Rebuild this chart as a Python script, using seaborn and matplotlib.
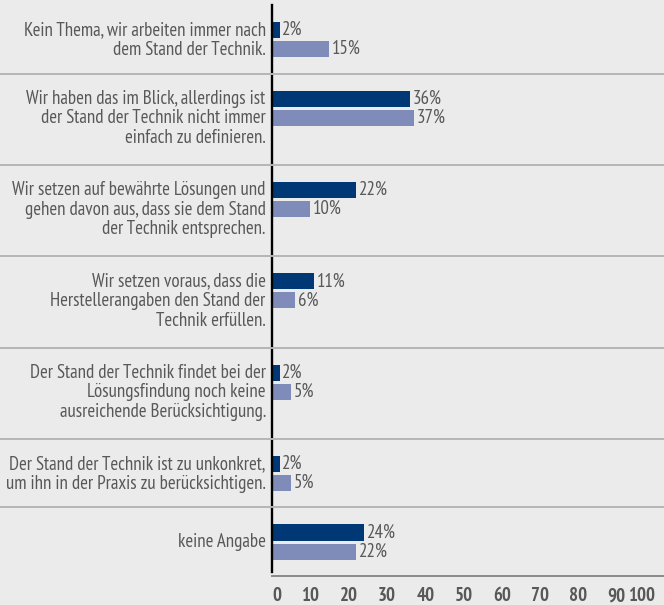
import matplotlib
matplotlib.use("Agg")
import matplotlib.pyplot as plt
import seaborn as sns
import pandas as pd
import numpy as np
from matplotlib import transforms
from matplotlib.lines import Line2D
from matplotlib import font_manager

# ---------------- data ----------------
categories = [
    "Kein Thema, wir arbeiten immer nach\ndem Stand der Technik.",
    "Wir haben das im Blick, allerdings ist\nder Stand der Technik nicht immer\neinfach zu definieren.",
    "Wir setzen auf bewährte Lösungen und\ngehen davon aus, dass sie dem Stand\nder Technik entsprechen.",
    "Wir setzen voraus, dass die\nHerstellerangaben den Stand der\nTechnik erfüllen.",
    "Der Stand der Technik findet bei der\nLösungsfindung noch keine\nausreichende Berücksichtigung.",
    "Der Stand der Technik ist zu unkonkret,\num ihn in der Praxis zu berücksichtigen.",
    "keine Angabe",
]
series_names = ["Serie 1", "Serie 2"]
series_1 = [2, 36, 22, 11, 2, 2, 24]
series_2 = [15, 37, 10, 6, 5, 5, 22]
x_ticks = [0, 10, 20, 30, 40, 50, 60, 70, 80, 90, 100]

# ---------------- style ----------------
sns.set_style("white")
avail = {}
for f in font_manager.fontManager.ttflist:
    avail.setdefault(f.name, set()).add(f.weight)
prefs = ["PT Sans Narrow", "Fira Sans Extra Condensed", "Sofia Sans Condensed",
         "Roboto Condensed", "Asap Condensed", "Archivo Narrow", "Fira Sans Condensed"]
chosen = [p for p in prefs if p in avail and 400 in avail[p]][:1]
plt.rcParams["font.family"] = chosen + ["Liberation Sans", "DejaVu Sans"]

BG = "#ebebeb"
DARK = "#003876"
LIGHT = "#7f8cba"
TXT = "#585858"
SEP = "#b5b5b5"
FS = 13.6

W, H = 664, 605
fig = plt.figure(figsize=(W / 100, H / 100), dpi=100, facecolor=BG)
ax_left, ax_top, ax_bottom = 272, 5, 576
ax = fig.add_axes([ax_left / W, (H - ax_bottom) / H, (W - ax_left) / W, (ax_bottom - ax_top) / H])
ax.set_facecolor(BG)

# ---------------- layout (pixel-like vertical units) ----------------
n_lines = [c.count("\n") + 1 for c in categories]
row_h = [23 + 22.7 * max(n, 2) for n in n_lines]
tops = np.concatenate([[0], np.cumsum(row_h)])
dark_pos = tops[:-1] + 25
light_pos = dark_pos + 19
bar_pitch = 19
bar_h = 16

df = pd.DataFrame({
    "value": series_1 + series_2,
    "pos": list(dark_pos) + list(light_pos),
    "series": [series_names[0]] * len(categories) + [series_names[1]] * len(categories),
})

sns.barplot(data=df, x="value", y="pos", hue="series", orient="y", native_scale=True,
            dodge=False, palette={series_names[0]: DARK, series_names[1]: LIGHT},
            width=bar_h / bar_pitch, errorbar=None, legend=False, saturation=1,
            linewidth=0, ax=ax)

total = tops[-1]
ax.set_ylim(total, 0)
ax.set_xlim(0, (W - ax_left) / 3.83)

for cont in ax.containers:
    ax.bar_label(cont, fmt="%.0f%%", padding=2, color=TXT, fontsize=FS)

# category labels
for i, lab in enumerate(categories):
    yc = dark_pos[i] if n_lines[i] > 1 else (dark_pos[i] + light_pos[i]) / 2
    ax.annotate(lab, xy=(0, yc - 9), xycoords=("axes fraction", "data"),
                xytext=(-4.5, 0), textcoords="offset points", ha="right", va="top",
                color=TXT, fontsize=FS, linespacing=1.12, annotation_clip=False)

# separators across full width
trans = transforms.blended_transform_factory(fig.transFigure, ax.transData)
for y in tops[1:-1]:
    fig.add_artist(Line2D([0, 1], [y, y], transform=trans, color=SEP, lw=1.4))

# axes styling
ax.set_xticks(x_ticks)
labels = ax.set_xticklabels([str(t) for t in x_ticks], fontweight="bold", color=TXT, fontsize=FS)
labels[0].set_horizontalalignment("left")
labels[-1].set_horizontalalignment("right")
ax.tick_params(axis="x", length=0, pad=8)
ax.set_yticks([])
ax.set_xlabel("")
ax.set_ylabel("")
for s in ["top", "right"]:
    ax.spines[s].set_visible(False)
ax.spines["left"].set_color("black")
ax.spines["left"].set_linewidth(1.7)
ax.spines["left"].set_bounds(0, total - 4)
ax.spines["bottom"].set_color("#8a8a8a")
ax.spines["bottom"].set_linewidth(1.4)

fig.savefig("out.png", dpi=100, facecolor=BG)
